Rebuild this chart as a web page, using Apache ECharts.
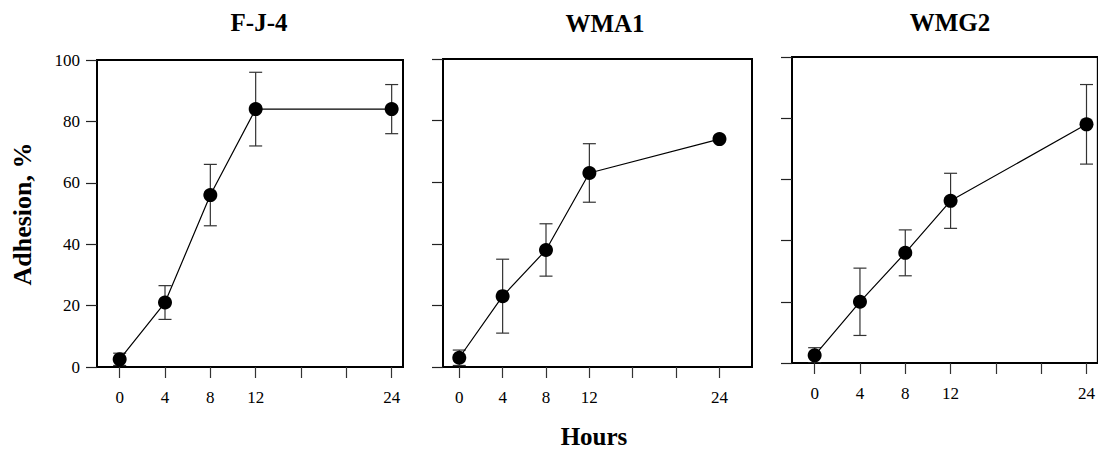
<!DOCTYPE html>
<html>
<head>
<meta charset="utf-8">
<script src="https://cdn.jsdelivr.net/npm/echarts@6/dist/echarts.min.js"></script>
<style>
html,body{margin:0;padding:0;background:#fff;}
#c{width:1098px;height:451px;}
</style>
</head>
<body>
<div id="c"></div>
<script>
// ---- data ----
var hours = [0, 4, 8, 12, 24];
var panelTitles = ['F-J-4', 'WMA1', 'WMG2'];
var fj4 = [2.5, 21, 56, 84, 84];
var fj4Err = [2, 5.5, 10, 12, 8];
var wma1 = [3, 23, 38, 63, 74];
var wma1Err = [2.5, 12, 8.5, 9.5, 0];
var wmg2 = [2.5, 20, 36, 53, 78];
var wmg2Err = [2.5, 11, 7.5, 9, 13];
var xTickValues = [0, 4, 8, 12, 16, 20, 24];
var xLabelValues = [0, 4, 8, 12, 24];
var xAxisTitle = 'Hours';
var yAxisTitle = 'Adhesion, %';

var FONT = '"Liberation Serif", "Times New Roman", serif';
var series = [fj4, wma1, wmg2];
var errs = [fj4Err, wma1Err, wmg2Err];

var grids = [
  {left: 97, top: 60, width: 306, height: 307},
  {left: 443, top: 59, width: 309, height: 308},
  {left: 792, top: 57, width: 308, height: 306}
];
var xRanges = [[-2, 25], [-1.5, 27], [-2, 25]];

var chart = echarts.init(document.getElementById('c'), null, {renderer: 'svg'});

var option = {
  backgroundColor: '#fff',
  animation: false,
  grid: grids.map(function (g) {
    return Object.assign({show: true, borderColor: '#000', borderWidth: 2, backgroundColor: 'transparent', containLabel: false}, g);
  }),
  xAxis: grids.map(function (g, i) {
    return {
      type: 'value', gridIndex: i, min: xRanges[i][0], max: xRanges[i][1],
      splitLine: {show: false},
      axisLine: {show: true, onZero: false, lineStyle: {color: '#000', width: 2}},
      axisTick: {show: true, inside: false, length: 11, customValues: xTickValues, lineStyle: {color: '#333', width: 1.2}},
      axisLabel: {show: true, customValues: xLabelValues, margin: 22, fontFamily: FONT, fontSize: 17, color: '#000'}
    };
  }),
  yAxis: grids.map(function (g, i) {
    return {
      type: 'value', gridIndex: i, min: 0, max: 100, interval: 20,
      splitLine: {show: false},
      axisLine: {show: true, onZero: false, lineStyle: {color: '#000', width: 2}},
      axisTick: {show: true, inside: false, length: 11, lineStyle: {color: '#222', width: 1.2}},
      axisLabel: {show: i === 0, margin: 17, fontFamily: FONT, fontSize: 17, color: '#000'}
    };
  }),
  title: [
    {text: panelTitles[0], left: 254, top: 5, textAlign: 'center', textStyle: {fontFamily: FONT, fontSize: 25, fontWeight: 'bold', color: '#000'}},
    {text: panelTitles[1], left: 600, top: 6, textAlign: 'center', textStyle: {fontFamily: FONT, fontSize: 25, fontWeight: 'bold', color: '#000'}},
    {text: panelTitles[2], left: 945, top: 5, textAlign: 'center', textStyle: {fontFamily: FONT, fontSize: 25, fontWeight: 'bold', color: '#000'}}
  ],
  graphic: [
    {type: 'text', x: 594, y: 436, silent: true,
     style: {text: xAxisTitle, fontFamily: FONT, fontSize: 25, lineHeight: 25, fontWeight: 'bold', fill: '#000', textAlign: 'center', textVerticalAlign: 'middle'}},
    {type: 'text', x: 22, y: 214, rotation: Math.PI / 2, silent: true,
     style: {text: yAxisTitle, fontFamily: FONT, fontSize: 26, fontWeight: 'bold', fill: '#000', textAlign: 'center', textVerticalAlign: 'middle'}}
  ],
  series: []
};

for (var i = 0; i < 3; i++) {
  (function (i) {
    var errData = hours.map(function (h, k) { return [h, series[i][k], errs[i][k]]; });
    option.series.push({
      type: 'custom', xAxisIndex: i, yAxisIndex: i, clip: true, z: 2,
      data: errData,
      renderItem: function (params, api) {
        var x = api.value(0), y = api.value(1), e = api.value(2);
        if (!e) return null;
        var top = api.coord([x, y + e]);
        var bot = api.coord([x, y - e]);
        var w = 6.5;
        var st = {stroke: '#333', lineWidth: 1.2};
        return {
          type: 'group',
          children: [
            {type: 'line', shape: {x1: top[0], y1: top[1], x2: bot[0], y2: bot[1]}, style: st},
            {type: 'line', shape: {x1: top[0] - w, y1: top[1], x2: top[0] + w, y2: top[1]}, style: st},
            {type: 'line', shape: {x1: bot[0] - w, y1: bot[1], x2: bot[0] + w, y2: bot[1]}, style: st}
          ]
        };
      }
    });
    option.series.push({
      type: 'line', xAxisIndex: i, yAxisIndex: i, z: 3,
      data: hours.map(function (h, k) { return [h, series[i][k]]; }),
      symbol: 'circle', symbolSize: 14, showSymbol: true,
      lineStyle: {color: '#000', width: 1.2},
      itemStyle: {color: '#000', borderWidth: 0},
      emphasis: {disabled: true}
    });
  })(i);
}
chart.setOption(option);
</script>
</body>
</html>
